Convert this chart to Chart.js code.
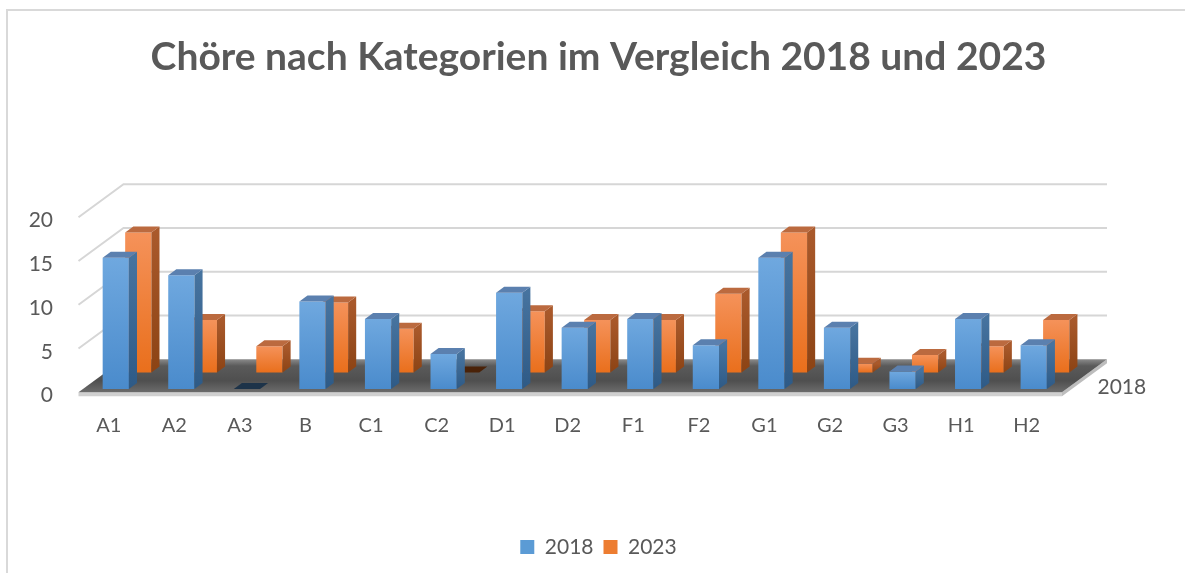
<!DOCTYPE html>
<html>
<head>
<meta charset="utf-8">
<script src="https://cdn.jsdelivr.net/npm/chart.js@4"></script>
<style>
  html, body { margin: 0; padding: 0; background: #fff; }
  #wrap { position: relative; width: 1185px; height: 573px; overflow: hidden; }
  #frame { position: absolute; left: 6px; top: 9px; width: 1300px; height: 700px;
           border-left: 2px solid #d9d9d9; border-top: 2px solid #d9d9d9; }
  canvas { position: absolute; left: 0; top: 0; }
</style>
</head>
<body>
<div id="wrap">
  <div id="frame"></div>
  <canvas id="chart" width="1185" height="573"></canvas>
</div>
<script>
const categories = ["A1", "A2", "A3", "B", "C1", "C2", "D1", "D2", "F1", "F2", "G1", "G2", "G3", "H1", "H2"];
const values2018 = [15, 13, 0, 10, 8, 4, 11, 7, 8, 5, 15, 7, 2, 8, 5];
const values2023 = [16, 6, 3, 8, 5, 0, 7, 6, 6, 9, 16, 1, 2, 3, 6];
const yTicks = [0, 5, 10, 15, 20];
const seriesNames = ["2018", "2023"];

// fake 3d: depth vector of the floor, bars sit at depth t
const DEPTH_X = 45, DEPTH_Y = -33, FACE_T = 0.1, BAR_D = 0.18;
const rowDepth = [0.1, 0.6];
const faceColors = [
  { front: ["#6fa8df", "#4a8bcc"], side: ["#46739f", "#2e5a86"], top: "#5b80af", flat: "#1d3349" },
  { front: ["#f5925a", "#e96f1c"], side: ["#a9592b", "#8c4314"], top: "#bb6a3f", flat: "#4a2208" }
];
const textColor = "#595959";

function off(t) {
  return [(t - FACE_T) * DEPTH_X, (t - FACE_T) * DEPTH_Y];
}

function poly(ctx, pts, fill) {
  ctx.beginPath();
  ctx.moveTo(pts[0][0], pts[0][1]);
  for (let i = 1; i < pts.length; i++) ctx.lineTo(pts[i][0], pts[i][1]);
  ctx.closePath();
  ctx.fillStyle = fill;
  ctx.fill();
}

function drawBox(ctx, el, value, t, c) {
  const { x, y, base, width } = el.getProps(["x", "y", "base", "width"], true);
  const l = x - width / 2, r = x + width / 2;
  const [ox, oy] = off(t);
  const [bx, by] = off(t + BAR_D);
  if (value === 0) {
    poly(ctx, [[l + ox, base + oy], [r + ox, base + oy], [r + bx, base + by], [l + bx, base + by]], c.flat);
    return;
  }
  const g = ctx.createLinearGradient(0, y + oy, 0, base + oy);
  g.addColorStop(0, c.front[0]);
  g.addColorStop(1, c.front[1]);
  ctx.fillStyle = g;
  ctx.fillRect(l + ox, y + oy, width, base - y);
  const gs = ctx.createLinearGradient(0, y + oy, 0, base + oy);
  gs.addColorStop(0, c.side[0]);
  gs.addColorStop(1, c.side[1]);
  poly(ctx, [[r + ox, y + oy], [r + bx, y + by], [r + bx, base + by], [r + ox, base + oy]], gs);
  poly(ctx, [[l + ox, y + oy], [r + ox, y + oy], [r + bx, y + by], [l + bx, y + by]], c.top);
}

const threeD = {
  id: "threeD",
  beforeDatasetsDraw(chart) {
    const ctx = chart.ctx;
    const area = chart.chartArea;
    const ys = chart.scales.y;
    const y0 = ys.getPixelForValue(0);
    const [fx, fy] = off(0);
    const [wx, wy] = off(1);
    ctx.save();

    // walls
    ctx.strokeStyle = "#d6d6d6";
    ctx.lineWidth = 2;
    yTicks.forEach((v) => {
      if (v === 0) return;
      const py = ys.getPixelForValue(v);
      ctx.beginPath();
      ctx.moveTo(area.left + fx, py + fy);
      ctx.lineTo(area.left + wx, py + wy);
      ctx.lineTo(area.right + wx, py + wy);
      ctx.stroke();
    });

    // floor
    const fl = [area.left + fx, y0 + fy], fr = [area.right + fx, y0 + fy];
    const br = [area.right + wx, y0 + wy], bl = [area.left + wx, y0 + wy];
    poly(ctx, [[fl[0], fl[1]], [fr[0], fr[1]], [fr[0], fr[1] + 4], [fl[0], fl[1] + 4]], "#d0d0d0");
    poly(ctx, [[fr[0], fr[1]], [br[0], br[1]], [br[0], br[1] + 4], [fr[0], fr[1] + 4]], "#bdbdbd");
    const gf = ctx.createLinearGradient(0, fl[1], 0, bl[1]);
    gf.addColorStop(0, "#6c6c6c");
    gf.addColorStop(0.35, "#4f4f4f");
    gf.addColorStop(0.8, "#5a5a5a");
    gf.addColorStop(1, "#8a8a8a");
    poly(ctx, [fl, fr, br, bl], gf);

    // bars, back row first
    [1, 0].forEach((d) => {
      const meta = chart.getDatasetMeta(d);
      const vals = d === 0 ? values2018 : values2023;
      meta.data.forEach((el, i) => drawBox(ctx, el, vals[i], rowDepth[d], faceColors[d]));
    });

    // depth axis label
    ctx.fillStyle = textColor;
    ctx.font = "21px Lato";
    ctx.textAlign = "left";
    ctx.textBaseline = "middle";
    ctx.fillText(seriesNames[0], area.right + 31, y0 - 2);
    ctx.restore();
  },
  beforeDatasetDraw() {
    return false;
  }
};

new Chart(document.getElementById("chart"), {
  type: "bar",
  data: {
    labels: categories,
    datasets: [
      { label: seriesNames[0], data: values2018, backgroundColor: "#5b9bd5" },
      { label: seriesNames[1], data: values2023, backgroundColor: "#ed7d31" }
    ]
  },
  options: {
    responsive: false,
    animation: false,
    devicePixelRatio: 1,
    layout: { padding: { left: 12, right: 0, top: 0, bottom: 5.5 } },
    datasets: { bar: { grouped: false, barPercentage: 0.4, categoryPercentage: 1 } },
    scales: {
      x: {
        grid: { display: false, drawTicks: false },
        border: { display: false },
        ticks: { color: textColor, font: { family: "Lato", size: 20 }, padding: 25, labelOffset: -7, maxRotation: 0, autoSkip: false },
        afterFit: (s) => { s.height = 137.5; }
      },
      y: {
        min: 0,
        max: 20,
        grid: { display: false, drawTicks: false },
        border: { display: false },
        ticks: { stepSize: 5, color: textColor, font: { family: "Lato", size: 21 }, padding: 30, labelOffset: 6.5 },
        afterFit: (s) => { s.width = 71; }
      },
      // empty right margin kept as an axis so the title and legend centre on the whole canvas
      yRight: {
        position: "right",
        min: 0,
        max: 20,
        grid: { display: false, drawTicks: false },
        border: { display: false },
        ticks: { display: false },
        afterFit: (s) => { s.width = 118.5; }
      }
    },
    plugins: {
      title: {
        display: true,
        text: "Chöre nach Kategorien im Vergleich 2018 und 2023",
        color: textColor,
        font: { family: "Lato", size: 39, weight: "bold" },
        padding: { top: 33.6, bottom: 133.6 }
      },
      legend: {
        position: "bottom",
        labels: { boxWidth: 14, boxHeight: 14, padding: 10, color: textColor, font: { family: "Lato", size: 21 } }
      },
      tooltip: { enabled: false }
    }
  },
  plugins: [threeD]
});
</script>
</body>
</html>
